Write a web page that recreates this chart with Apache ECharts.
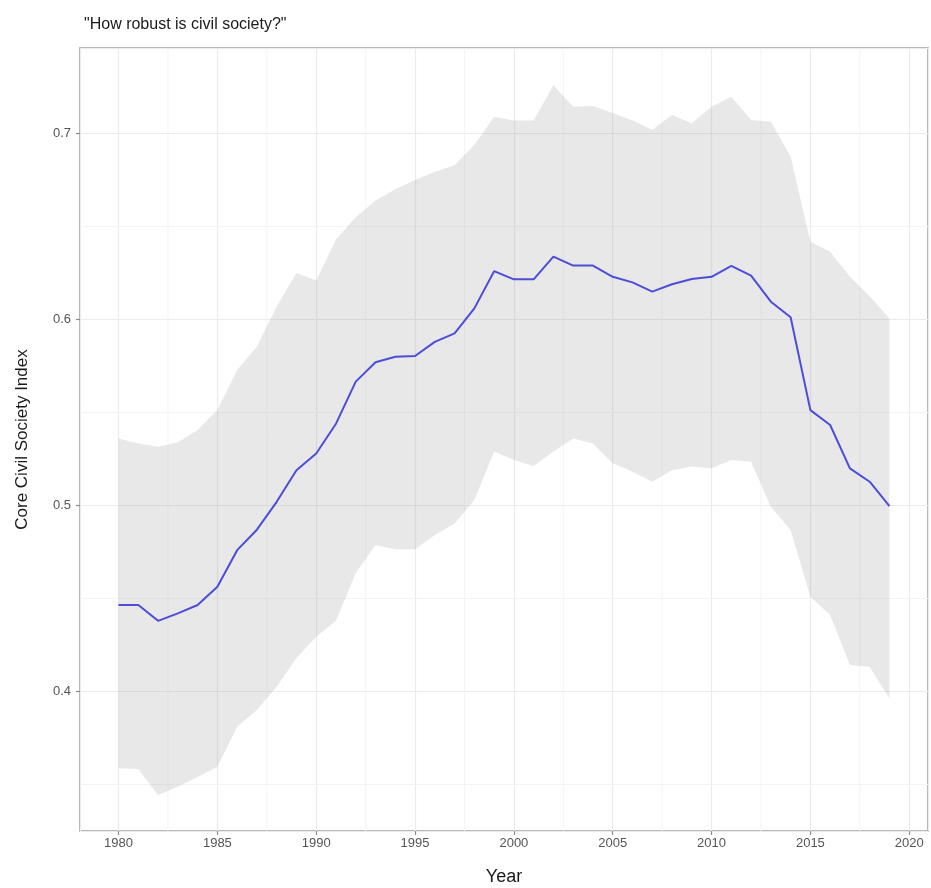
<!DOCTYPE html>
<html>
<head>
<meta charset="utf-8">
<script src="https://cdn.jsdelivr.net/npm/echarts@6/dist/echarts.min.js"></script>
<style>
html,body{margin:0;padding:0;background:#fff;}
#chart{width:931px;height:888px;}
</style>
</head>
<body>
<div id="chart"></div>
<script>
const years = [1980,1981,1982,1983,1984,1985,1986,1987,1988,1989,1990,1991,1992,1993,1994,1995,1996,1997,1998,1999,2000,2001,2002,2003,2004,2005,2006,2007,2008,2009,2010,2011,2012,2013,2014,2015,2016,2017,2018,2019];
const meanIndex = [0.4465,0.4465,0.438,0.442,0.4465,0.4563,0.476,0.487,0.502,0.519,0.528,0.544,0.5666,0.577,0.580,0.5804,0.588,0.5926,0.606,0.626,0.6216,0.6216,0.6338,0.629,0.629,0.623,0.620,0.615,0.619,0.6218,0.623,0.6288,0.6236,0.6096,0.6012,0.5513,0.5433,0.520,0.5128,0.4997];
const upperBound = [0.536,0.5334,0.5316,0.534,0.5406,0.5513,0.5729,0.5854,0.607,0.625,0.621,0.643,0.655,0.664,0.670,0.675,0.6795,0.683,0.694,0.709,0.707,0.707,0.726,0.7144,0.7148,0.711,0.707,0.702,0.710,0.7055,0.7144,0.7198,0.7073,0.7063,0.6876,0.6418,0.6365,0.623,0.6125,0.6006];
const lowerBound = [0.3587,0.3583,0.3444,0.3488,0.354,0.3596,0.381,0.390,0.4026,0.418,0.4295,0.438,0.4637,0.4788,0.4765,0.4765,0.4841,0.4904,0.503,0.529,0.5245,0.5212,0.529,0.5361,0.5334,0.5227,0.5182,0.5128,0.519,0.521,0.520,0.5245,0.5236,0.4994,0.4868,0.451,0.4411,0.4142,0.4133,0.3963];
const minorBreaksX = [1982.5,1987.5,1992.5,1997.5,2002.5,2007.5,2012.5,2017.5];
const minorBreaksY = [0.35,0.45,0.55,0.65];
const titleText = '"How robust is civil society?"';
const xName = 'Year';
const yName = 'Core Civil Society Index';

const font = "'Liberation Sans', Arial, Helvetica, sans-serif";
const bandData = years.map((y,i)=>[y, lowerBound[i], upperBound[i]]);
const meanData = years.map((y,i)=>[y, meanIndex[i]]);
const minorData = minorBreaksX.map(v=>[0, v]).concat(minorBreaksY.map(v=>[1, v]));

const chart = echarts.init(document.getElementById('chart'), null, {renderer:'canvas'});
chart.setOption({
  animation:false,
  backgroundColor:'#ffffff',
  title:{
    text:titleText, left:79, top:12,
    textStyle:{fontFamily:font, fontSize:16, fontWeight:'normal', color:'#1a1a1a'}
  },
  grid:{left:80, right:3, top:48, bottom:57, show:true, borderColor:'#a0a0a0', borderWidth:1.6, backgroundColor:'transparent', containLabel:false, outerBoundsMode:'none'},
  xAxis:{
    type:'value', min:1978.05, max:2020.95, splitNumber:8,
    name:xName, nameLocation:'middle', nameGap:37,
    nameTextStyle:{fontFamily:font, fontSize:18, color:'#1a1a1a'},
    axisLine:{show:false},
    axisTick:{show:true, length:4, lineStyle:{color:'#8a8a8a', width:1.2}},
    axisLabel:{showMinLabel:false, showMaxLabel:false, margin:6, fontFamily:font, fontSize:13, color:'#555', formatter:v=>String(Math.round(v))},
    splitLine:{show:true, lineStyle:{color:'#ebebeb', width:1.2}}
  },
  yAxis:{
    type:'value', min:0.325, max:0.746, splitNumber:4,
    name:yName, nameLocation:'middle', nameGap:49, nameRotate:90,
    nameTextStyle:{fontFamily:font, fontSize:17, color:'#1a1a1a'},
    axisLine:{show:false},
    axisTick:{show:true, length:4, lineStyle:{color:'#8a8a8a', width:1.2}},
    axisLabel:{showMinLabel:false, showMaxLabel:false, margin:9, fontFamily:font, fontSize:13, color:'#555', formatter:v=>v.toFixed(1)},
    splitLine:{show:true, lineStyle:{color:'#ebebeb', width:1.2}}
  },
  series:[
    {
      name:'minorGrid', type:'custom', z:0, silent:true, clip:true,
      data:minorData,
      renderItem:function(params, api){
        const cs = params.coordSys;
        const kind = api.value(0), v = api.value(1);
        let shape;
        if (kind === 0) {
          const x = api.coord([v, 0.5])[0];
          shape = {x1:x, y1:cs.y, x2:x, y2:cs.y+cs.height};
        } else {
          const y = api.coord([2000, v])[1];
          shape = {x1:cs.x, y1:y, x2:cs.x+cs.width, y2:y};
        }
        return {type:'line', shape:shape, style:{stroke:'#f4f4f4', lineWidth:1}};
      },
      encode:{x:-1, y:-1}
    },
    {
      name:'band', type:'custom', z:2, silent:true, clip:true,
      data:bandData,
      encode:{x:0, y:[1,2]},
      renderItem:function(params, api){
        if (params.dataIndex !== 0) return null;
        const pts = [];
        for (let i = 0; i < bandData.length; i++) pts.push(api.coord([bandData[i][0], bandData[i][2]]));
        for (let i = bandData.length-1; i >= 0; i--) pts.push(api.coord([bandData[i][0], bandData[i][1]]));
        return {type:'polygon', shape:{points:pts}, style:{fill:'rgba(150,150,150,0.22)', stroke:null}};
      }
    },
    {
      name:'mean', type:'line', data:meanData, symbol:'none', z:3,
      lineStyle:{color:'#4d4dd6', width:2}, silent:true
    }
  ]
});
</script>
</body>
</html>
